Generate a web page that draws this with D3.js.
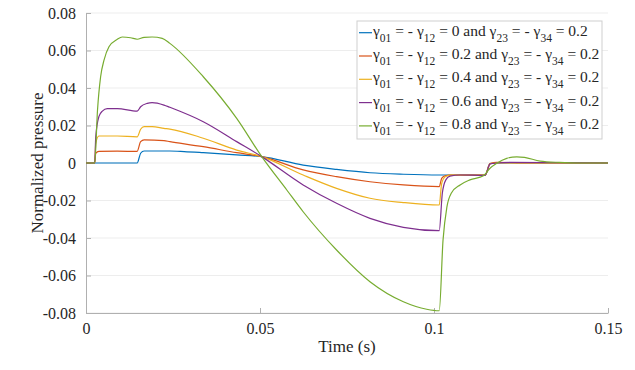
<!DOCTYPE html>
<meta charset="utf-8">
<script src="https://d3js.org/d3.v7.min.js"></script>
<style>
  body { margin: 0; background: #fff; }
  text { font-family: "Liberation Serif", "Times New Roman", serif; fill: #262626; }
</style>
<div id="chart"></div>
<script>

// time (s) and normalized pressure for each case
var tBlue = [0, 0.0147, 0.0157, 0.0167, 0.0224, 0.0241, 0.0282, 0.0337, 0.0433, 0.0505, 0.0624, 0.072, 0.0816, 0.0912, 0.1015, 0.1075, 0.1147, 0.1161, 0.118, 0.15];
var vBlue = [0, 0, 0.0052, 0.0064, 0.0064, 0.0064, 0.0061, 0.0055, 0.0043, 0.0034, -0.0011, -0.0034, -0.0052, -0.006, -0.0064, -0.0064, -0.0065, -0.0003, 0, 0];

var tRed = [0, 0.0025, 0.0028, 0.0037, 0.009, 0.0147, 0.0157, 0.0167, 0.0224, 0.0241, 0.0337, 0.0433, 0.0505, 0.0624, 0.072, 0.0816, 0.0912, 0.1015, 0.1022, 0.1032, 0.1046, 0.1147, 0.1161, 0.118, 0.125, 0.15];
var vRed = [0, 0, 0.0052, 0.0062, 0.0063, 0.0062, 0.0114, 0.0123, 0.0119, 0.0114, 0.0087, 0.0055, 0.0034, -0.0037, -0.0073, -0.01, -0.0117, -0.0126, -0.0082, -0.0068, -0.0064, -0.0065, -0.0003, 0.0003, 0.0001, 0];

var tYellow = [0, 0.0025, 0.0028, 0.0037, 0.009, 0.0147, 0.0157, 0.0167, 0.019, 0.0224, 0.0241, 0.0337, 0.0433, 0.0505, 0.0624, 0.072, 0.0816, 0.0912, 0.1015, 0.1022, 0.1032, 0.1046, 0.1147, 0.1161, 0.118, 0.15];
var vYellow = [0, 0, 0.0105, 0.0144, 0.0144, 0.0139, 0.018, 0.0194, 0.0194, 0.0185, 0.0181, 0.0132, 0.0069, 0.0034, -0.0064, -0.0135, -0.0188, -0.0211, -0.0224, -0.011, -0.0074, -0.0065, -0.0065, -0.0003, 0, 0];

var tPurple = [0, 0.0025, 0.0028, 0.0037, 0.0047, 0.0061, 0.009, 0.0147, 0.0157, 0.0176, 0.019, 0.0224, 0.0241, 0.0337, 0.0433, 0.0505, 0.0624, 0.072, 0.0816, 0.0912, 0.1015, 0.1024, 0.1034, 0.1046, 0.1075, 0.1147, 0.1161, 0.118, 0.122, 0.15];
var vPurple = [0, 0, 0.014, 0.0247, 0.0277, 0.029, 0.029, 0.0277, 0.03, 0.0318, 0.0322, 0.0309, 0.0297, 0.022, 0.0114, 0.0034, -0.0117, -0.0215, -0.0295, -0.0343, -0.0361, -0.016, -0.009, -0.007, -0.0064, -0.0066, -0.0005, 0, 0.0003, 0];

var tGreen = [0, 0.0025, 0.0033, 0.0042, 0.0052, 0.0066, 0.009, 0.0104, 0.0128, 0.0147, 0.0167, 0.019, 0.0219, 0.0241, 0.0337, 0.0433, 0.0505, 0.0577, 0.0624, 0.072, 0.0816, 0.0912, 0.0979, 0.1015, 0.1026, 0.1037, 0.105, 0.1075, 0.1103, 0.1142, 0.1161, 0.118, 0.1209, 0.1238, 0.126, 0.1305, 0.136, 0.142, 0.15];
var vGreen = [0, 0, 0.028, 0.046, 0.055, 0.062, 0.066, 0.0672, 0.0668, 0.066, 0.067, 0.0672, 0.0665, 0.0638, 0.046, 0.0238, 0.0034, -0.0144, -0.026, -0.0464, -0.0633, -0.074, -0.078, -0.0788, -0.041, -0.0235, -0.016, -0.0117, -0.009, -0.0068, -0.0028, -0.0002, 0.0025, 0.0033, 0.003, 0.001, 0.0003, 0, 0];

var gamma01 = ["0", "0.2", "0.4", "0.6", "0.8"];
var colors = ["#0072BD", "#D95319", "#EDB120", "#7E2F8E", "#77AC30"];
var xTicks = [0, 0.05, 0.1, 0.15];
var yTicks = [-0.08, -0.06, -0.04, -0.02, 0, 0.02, 0.04, 0.06, 0.08];

var series = [
    { t: tBlue, v: vBlue },
    { t: tRed, v: vRed },
    { t: tYellow, v: vYellow },
    { t: tPurple, v: vPurple },
    { t: tGreen, v: vGreen }
];

var margin = { top: 13, right: 27, bottom: 57, left: 86 },
    width = 635 - margin.left - margin.right,
    height = 370 - margin.top - margin.bottom;

var svg = d3.select("#chart")
    .append("svg")
    .attr("width", 635)
    .attr("height", 370)
    .append("g")
    .attr("transform", "translate(" + margin.left + "," + margin.top + ")");

var x = d3.scaleLinear().domain([0, 0.15]).range([0, width]);
var y = d3.scaleLinear().domain([-0.08, 0.08]).range([height, 0]);

// horizontal grid
svg.append("g")
    .selectAll("line")
    .data(yTicks)
    .join("line")
    .attr("x1", 0).attr("x2", width)
    .attr("y1", function (d) { return y(d); })
    .attr("y2", function (d) { return y(d); })
    .attr("stroke", "#ededed")
    .attr("stroke-width", 1);

var fmt = function (d) { return d === 0 ? "0" : String(+d.toFixed(2)); };

// axes, ticks pointing inward like matlab
var xAxis = svg.append("g")
    .attr("transform", "translate(0," + height + ")")
    .call(d3.axisBottom(x).tickValues(xTicks).tickSizeInner(-5).tickSizeOuter(0).tickPadding(10).tickFormat(fmt));

var yAxis = svg.append("g")
    .call(d3.axisLeft(y).tickValues(yTicks).tickSizeInner(-5).tickSizeOuter(0).tickPadding(10).tickFormat(fmt));

[xAxis, yAxis].forEach(function (a) {
    a.attr("font-family", "Liberation Serif").attr("font-size", 16);
    a.select(".domain").attr("stroke", "#b0b0b0");
    a.selectAll(".tick line").attr("stroke", "#b0b0b0");
    a.selectAll(".tick text").attr("fill", "#262626");
});

// lines
var line = d3.line()
    .x(function (d) { return x(d[0]); })
    .y(function (d) { return y(d[1]); })
    .curve(d3.curveMonotoneX);

series.forEach(function (s, i) {
    var pts = s.t.map(function (t, k) { return [t, s.v[k]]; });
    svg.append("path")
        .datum(pts)
        .attr("fill", "none")
        .attr("stroke", colors[i])
        .attr("stroke-width", 1.2)
        .attr("d", line);
});

// axis labels
svg.append("text")
    .attr("x", width / 2)
    .attr("y", height + 39)
    .attr("text-anchor", "middle")
    .style("font-size", "17px")
    .text("Time (s)");

svg.append("text")
    .attr("transform", "rotate(-90)")
    .attr("x", -height / 2)
    .attr("y", -43)
    .attr("text-anchor", "middle")
    .style("font-size", "17px")
    .text("Normalized pressure");

// legend
var lg = svg.append("g").attr("transform", "translate(" + (357 - margin.left) + "," + (21 - margin.top) + ")");
lg.append("rect")
    .attr("width", 245).attr("height", 118)
    .attr("fill", "#fff")
    .attr("stroke", "#cfcfcf");

gamma01.forEach(function (g, i) {
    var row = lg.append("g").attr("transform", "translate(0," + (11.7 + i * 23.3) + ")");
    row.append("line")
        .attr("x1", 2).attr("x2", 15)
        .attr("stroke", colors[i]).attr("stroke-width", 1.2);
    var t = row.append("text").attr("x", 16).attr("y", 3).style("font-size", "15.5px");
    var parts = [["γ", null], ["01", "s"], [" = - γ", "u"], ["12", "s"], [" = " + g + " and γ", "u"], ["23", "s"], [" = - γ", "u"], ["34", "s"], [" = 0.2", "u"]];
    parts.forEach(function (p) {
        var ts = t.append("tspan").text(p[0]);
        if (p[1] === "s") ts.attr("dy", 6).style("font-size", "11.5px");
        if (p[1] === "u") ts.attr("dy", -6);
    });
});

</script>
